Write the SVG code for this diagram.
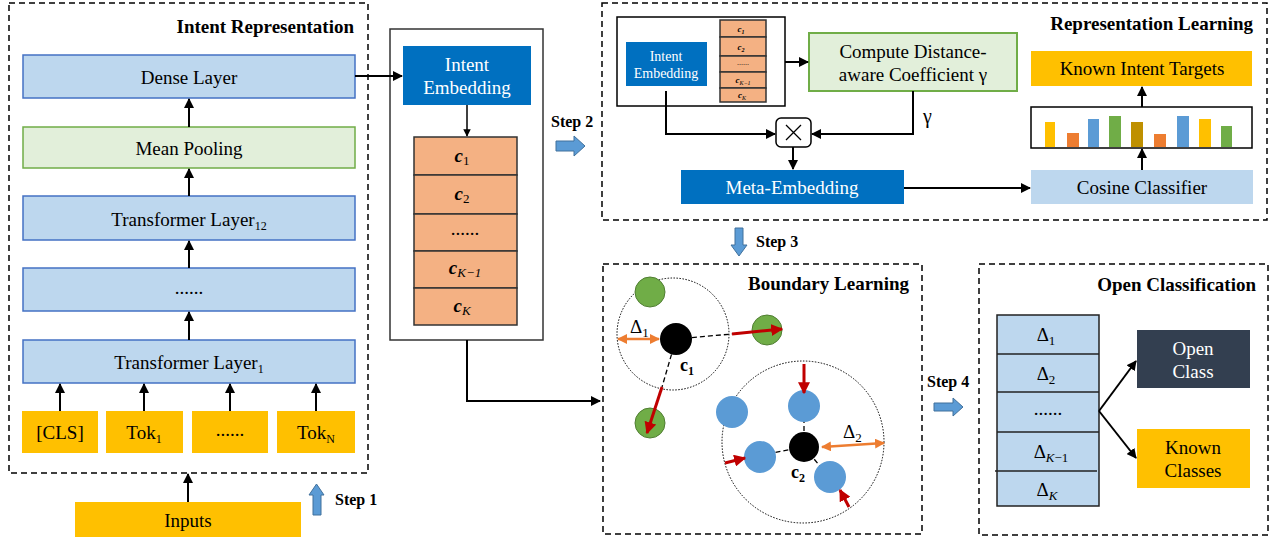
<svg xmlns="http://www.w3.org/2000/svg" width="1277" height="539" viewBox="0 0 1277 539" font-family="'Liberation Serif', 'DejaVu Serif', serif">
<defs>
<marker id="ah" viewBox="0 0 10 10" refX="9" refY="5" markerWidth="5" markerHeight="5" orient="auto-start-reverse"><path d="M0,0 L10,5 L0,10 z" fill="#000"/></marker>
<marker id="ar" viewBox="0 0 10 10" refX="9" refY="5" markerWidth="4" markerHeight="4" orient="auto"><path d="M0,0 L10,5 L0,10 z" fill="#C00000"/></marker>
<marker id="ao" viewBox="0 0 10 10" refX="9" refY="5" markerWidth="4" markerHeight="4" orient="auto-start-reverse"><path d="M0,0 L10,5 L0,10 z" fill="#ED7D31"/></marker>
</defs>
<style>
text{font-family:'Liberation Serif','DejaVu Serif',serif;fill:#000}
.t{font-size:19px;text-anchor:middle}
.ttl{font-size:19px;font-weight:bold;text-anchor:end}
.step{font-size:16px;font-weight:bold}
.dash{fill:none;stroke:#000;stroke-width:1.5;stroke-dasharray:6,4}
.blue{fill:#BDD7EE;stroke:#4472C4;stroke-width:1.5}
.green{fill:#E2EFDA;stroke:#70AD47;stroke-width:2}
.gold{fill:#FFC000}
.dblue{fill:#0070C0}
.wt{fill:#fff}
.orange{fill:#F4B183;stroke:#333;stroke-width:1.5}
.arr{fill:none;stroke:#000;stroke-width:2;marker-end:url(#ah)}
.barrow{fill:#5B9BD5;stroke:#41719C;stroke-width:1}
.math{font-style:italic;font-weight:bold}
.dotc{fill:none;stroke:#000;stroke-width:1;stroke-dasharray:1.5,1.5}
.dl{stroke:#000;stroke-width:1.3;stroke-dasharray:5,3;fill:none}
.red{stroke:#C00000;stroke-width:3;fill:none;marker-end:url(#ar)}
.ora{stroke:#ED7D31;stroke-width:2.5;fill:none;marker-end:url(#ao);marker-start:url(#ao)}
.gc{fill:#70AD47;stroke:#507E32;stroke-width:1}
.bc{fill:#5B9BD5}
</style>

<!-- Panel frames -->
<g id="panel-intent-representation">
<rect class="dash" x="9" y="3" width="359" height="470"/>
<text class="ttl" x="354" y="33">Intent Representation</text>
</g>
<g id="panel-representation-learning">
<rect class="dash" x="602" y="3" width="665" height="217"/>
<text class="ttl" x="1253" y="30">Representation Learning</text>
</g>
<g id="panel-boundary-learning">
<rect class="dash" x="603" y="264" width="319" height="270"/>
<text class="ttl" x="909" y="290">Boundary Learning</text>
</g>
<g id="panel-open-classification">
<rect class="dash" x="979" y="264" width="289" height="271"/>
<text class="ttl" x="1256" y="291">Open Classification</text>
</g>

<!-- Intent Representation nodes -->
<g id="dense-layer"><rect class="blue" x="23" y="55" width="332" height="43"/><text class="t" x="189" y="84">Dense Layer</text></g>
<g id="mean-pooling"><rect class="green" x="23" y="127" width="332" height="41" style="stroke-width:1.5"/><text class="t" x="189" y="155">Mean Pooling</text></g>
<g id="transformer-12"><rect class="blue" x="23" y="196" width="332" height="44"/><text class="t" x="189" y="226">Transformer Layer<tspan font-size="12" dy="4">12</tspan></text></g>
<g id="transformer-dots"><rect class="blue" x="23" y="268" width="332" height="43"/><text class="t" x="189" y="294">......</text></g>
<g id="transformer-1"><rect class="blue" x="23" y="340" width="332" height="43"/><text class="t" x="189" y="369">Transformer Layer<tspan font-size="12" dy="4">1</tspan></text></g>
<g id="tok-cls"><rect class="gold" x="22" y="411" width="76" height="42"/><text class="t" x="60" y="439">[CLS]</text></g>
<g id="tok-1"><rect class="gold" x="106" y="411" width="77" height="42"/><text class="t" x="144" y="439">Tok<tspan font-size="12" dy="4">1</tspan></text></g>
<g id="tok-dots"><rect class="gold" x="192" y="411" width="76" height="42"/><text class="t" x="230" y="436">......</text></g>
<g id="tok-n"><rect class="gold" x="277" y="411" width="78" height="42"/><text class="t" x="316" y="439">Tok<tspan font-size="12" dy="4">N</tspan></text></g>
<g id="inputs"><rect class="gold" x="75" y="502" width="226" height="35"/><text class="t" x="188" y="527">Inputs</text></g>

<!-- Step arrows -->
<g id="step1"><path class="barrow" d="M313,515 V495 H309 L316.5,484 L324,495 H321 V515 Z"/><text class="step" x="335" y="505">Step 1</text></g>
<g id="step2"><path class="barrow" d="M556,141 H574 V136 L585,146 L574,156 V151 H556 Z"/><text class="step" x="551" y="127">Step 2</text></g>
<g id="step3"><path class="barrow" d="M735,228 H743 V245 H747 L739,256 L731,245 H735 Z"/><text class="step" x="756" y="247">Step 3</text></g>
<g id="step4"><path class="barrow" d="M934,403 H953 V398 L963,407 L953,416 V411 H934 Z"/><text class="step" x="927" y="387">Step 4</text></g>

<!-- Middle intent embedding block -->
<g id="intent-embedding-block">
<rect x="390" y="29" width="153" height="311" fill="#fff" stroke="#333" stroke-width="1.5"/>
<rect class="dblue" x="403" y="46" width="128" height="59"/>
<text class="t wt" x="467" y="71">Intent</text>
<text class="t wt" x="467" y="94">Embedding</text>
<rect class="orange" x="414" y="137" width="103" height="38"/>
<rect class="orange" x="414" y="175" width="103" height="39"/>
<rect class="orange" x="414" y="214" width="103" height="37"/>
<rect class="orange" x="414" y="251" width="103" height="37"/>
<rect class="orange" x="414" y="288" width="103" height="37"/>
<text class="t math" x="462" y="162" font-size="21">c<tspan font-size="13" font-weight="normal" font-style="normal" dy="3">1</tspan></text>
<text class="t math" x="462" y="200" font-size="21">c<tspan font-size="13" font-weight="normal" font-style="normal" dy="3">2</tspan></text>
<text class="t" x="465" y="235">......</text>
<text class="t math" x="465" y="274" font-size="21">c<tspan font-size="13" font-weight="normal" dy="3">K−1</tspan></text>
<text class="t math" x="462" y="312" font-size="21">c<tspan font-size="13" font-weight="normal" dy="3">K</tspan></text>
</g>

<!-- Representation Learning nodes -->
<g id="rl-input-block">
<rect x="617" y="17" width="168" height="89" fill="#fff" stroke="#000" stroke-width="1.5"/>
<rect class="dblue" x="626" y="42" width="81" height="44"/>
<text class="wt" x="666" y="61" font-size="14" text-anchor="middle">Intent</text>
<text class="wt" x="666" y="78" font-size="14" text-anchor="middle">Embedding</text>
<rect class="orange" x="720" y="20" width="46" height="17" stroke-width="1"/>
<rect class="orange" x="720" y="37" width="46" height="19" stroke-width="1"/>
<rect class="orange" x="720" y="56" width="46" height="16" stroke-width="1"/>
<rect class="orange" x="720" y="72" width="46" height="16" stroke-width="1"/>
<rect class="orange" x="720" y="88" width="46" height="14" stroke-width="1"/>
<text class="math" x="741" y="32" font-size="9" text-anchor="middle">c<tspan font-size="6" dy="2">1</tspan></text>
<text class="math" x="741" y="50" font-size="9" text-anchor="middle">c<tspan font-size="6" dy="2">2</tspan></text>
<text x="743" y="65" font-size="8" text-anchor="middle">......</text>
<text class="math" x="743" y="83" font-size="9" text-anchor="middle">c<tspan font-size="6" font-weight="normal" dy="2">K−1</tspan></text>
<text class="math" x="742" y="98" font-size="9" text-anchor="middle">c<tspan font-size="6" font-weight="normal" dy="2">K</tspan></text>
</g>
<g id="compute-gamma"><rect class="green" x="809" y="33" width="208" height="58"/><text class="t" x="913" y="58">Compute Distance-</text><text class="t" x="913" y="81">aware Coefficient γ</text></g>
<g id="multiply"><rect x="776" y="118" width="35" height="29" rx="5" fill="#fff" stroke="#000" stroke-width="1.5"/><path d="M786,125 L801,140 M801,125 L786,140" stroke="#000" stroke-width="1.3"/></g>
<g id="meta-embedding"><rect class="dblue" x="681" y="170" width="223" height="34"/><text class="t wt" x="792" y="194">Meta-Embedding</text></g>
<g id="cosine-classifier"><rect x="1031" y="170" width="222" height="34" fill="#BDD7EE"/><text class="t" x="1142" y="194">Cosine Classifier</text></g>
<g id="prob-bars">
<rect x="1031" y="107" width="221" height="41" fill="#fff" stroke="#000" stroke-width="1.5"/>
<rect x="1045" y="122" width="10" height="25" fill="#FFC000"/>
<rect x="1067" y="133" width="12" height="14" fill="#ED7D31"/>
<rect x="1088" y="119" width="11" height="28" fill="#5B9BD5"/>
<rect x="1109" y="116" width="12" height="31" fill="#70AD47"/>
<rect x="1131" y="122" width="12" height="25" fill="#BF9000"/>
<rect x="1154" y="134" width="12" height="13" fill="#ED7D31"/>
<rect x="1177" y="116" width="12" height="31" fill="#5B9BD5"/>
<rect x="1199" y="119" width="12" height="28" fill="#FFC000"/>
<rect x="1221" y="126" width="11" height="21" fill="#70AD47"/>
</g>
<g id="known-intent-targets"><rect class="gold" x="1031" y="51" width="221" height="35"/><text class="t" x="1142" y="75">Known Intent Targets</text></g>

<!-- Boundary Learning scene -->
<g id="boundary-scene">
<circle class="dotc" cx="673" cy="334" r="56"/>
<circle class="dotc" cx="803" cy="442" r="81"/>
<line class="dl" x1="676" y1="339" x2="732" y2="334"/>
<line class="dl" x1="676" y1="339" x2="662" y2="387"/>
<line class="dl" x1="804" y1="447" x2="804" y2="394"/>
<line class="dl" x1="804" y1="447" x2="745" y2="458"/>
<line class="dl" x1="804" y1="447" x2="840" y2="490"/>
<circle class="gc" cx="650" cy="292" r="15"/>
<circle class="gc" cx="767" cy="330" r="15"/>
<circle class="gc" cx="650" cy="423" r="15"/>
<circle class="bc" cx="732" cy="412" r="16"/>
<circle class="bc" cx="804" cy="406" r="16"/>
<circle class="bc" cx="760" cy="457" r="16"/>
<circle class="bc" cx="830" cy="477" r="16"/>
<circle cx="676" cy="339" r="16" fill="#000"/>
<circle cx="804" cy="447" r="15" fill="#000"/>
<line class="red" x1="732" y1="334" x2="782" y2="329"/>
<line class="red" x1="662" y1="387" x2="647" y2="433"/>
<line class="red" x1="804" y1="364" x2="804" y2="393"/>
<line class="red" x1="725" y1="463" x2="745" y2="458"/>
<line class="red" x1="849" y1="507" x2="840" y2="490"/>
<line class="ora" x1="618" y1="339" x2="659" y2="339"/>
<line class="ora" x1="822" y1="447" x2="884" y2="443"/>
<text x="630" y="333" font-size="19">Δ<tspan font-size="13" dy="4">1</tspan></text>
<text x="843" y="438" font-size="19">Δ<tspan font-size="13" dy="4">2</tspan></text>
<text x="680" y="371" font-size="18" font-weight="bold">c<tspan font-size="12" dy="4">1</tspan></text>
<text x="791" y="478" font-size="18" font-weight="bold">c<tspan font-size="12" dy="4">2</tspan></text>
</g>

<!-- Open Classification nodes -->
<g id="delta-table">
<rect x="997" y="315" width="102" height="191" fill="#BDD7EE" stroke="#222" stroke-width="1.5"/>
<line x1="997" y1="354" x2="1099" y2="354" stroke="#222" stroke-width="1.5"/>
<line x1="997" y1="392" x2="1099" y2="392" stroke="#222" stroke-width="1.5"/>
<line x1="997" y1="432" x2="1099" y2="432" stroke="#222" stroke-width="1.5"/>
<line x1="995" y1="471" x2="1097" y2="471" stroke="#222" stroke-width="1.5"/>
<text x="1046" y="341" font-size="19" text-anchor="middle">Δ<tspan font-size="13" dy="4">1</tspan></text>
<text x="1046" y="380" font-size="19" text-anchor="middle">Δ<tspan font-size="13" dy="4">2</tspan></text>
<text x="1048" y="415" font-size="19" text-anchor="middle">......</text>
<text x="1051" y="458" font-size="19" text-anchor="middle">Δ<tspan font-size="13" font-style="italic" dy="4">K</tspan><tspan font-size="13" dy="0">−1</tspan></text>
<text x="1047" y="496" font-size="19" text-anchor="middle">Δ<tspan font-size="13" font-style="italic" dy="4">K</tspan></text>
</g>
<g id="open-class"><rect x="1137" y="330" width="113" height="58" fill="#333F50"/><text class="t wt" x="1193" y="355">Open</text><text class="t wt" x="1193" y="378">Class</text></g>
<g id="known-classes"><rect class="gold" x="1137" y="429" width="113" height="59"/><text class="t" x="1193" y="454">Known</text><text class="t" x="1193" y="477">Classes</text></g>

<!-- Connectors -->
<g id="connectors">
<line class="arr" x1="189" y1="127" x2="189" y2="99"/>
<line class="arr" x1="189" y1="196" x2="189" y2="169"/>
<line class="arr" x1="189" y1="268" x2="189" y2="241"/>
<line class="arr" x1="189" y1="340" x2="189" y2="312"/>
<line class="arr" x1="60" y1="411" x2="60" y2="384"/>
<line class="arr" x1="144" y1="411" x2="144" y2="384"/>
<line class="arr" x1="230" y1="411" x2="230" y2="384"/>
<line class="arr" x1="316" y1="411" x2="316" y2="384"/>
<line class="arr" x1="188" y1="502" x2="188" y2="474"/>
<line class="arr" x1="355" y1="76" x2="402" y2="76"/>
<line class="arr" x1="467" y1="105" x2="467" y2="136" style="stroke-width:1.5"/>
<path class="arr" d="M467,340 V401 H600"/>
<line class="arr" x1="785" y1="62" x2="808" y2="62"/>
<path class="arr" d="M666,91 V134 H775"/>
<path class="arr" d="M913,91 V134 H812"/>
<text x="923" y="123" font-size="20">γ</text>
<line class="arr" x1="793" y1="147" x2="793" y2="169"/>
<line class="arr" x1="904" y1="188" x2="1030" y2="188"/>
<line class="arr" x1="1142" y1="170" x2="1142" y2="149"/>
<line class="arr" x1="1142" y1="107" x2="1142" y2="87"/>
<line class="arr" x1="1099" y1="411" x2="1136" y2="361"/>
<line class="arr" x1="1099" y1="411" x2="1136" y2="458"/>
</g>
</svg>
